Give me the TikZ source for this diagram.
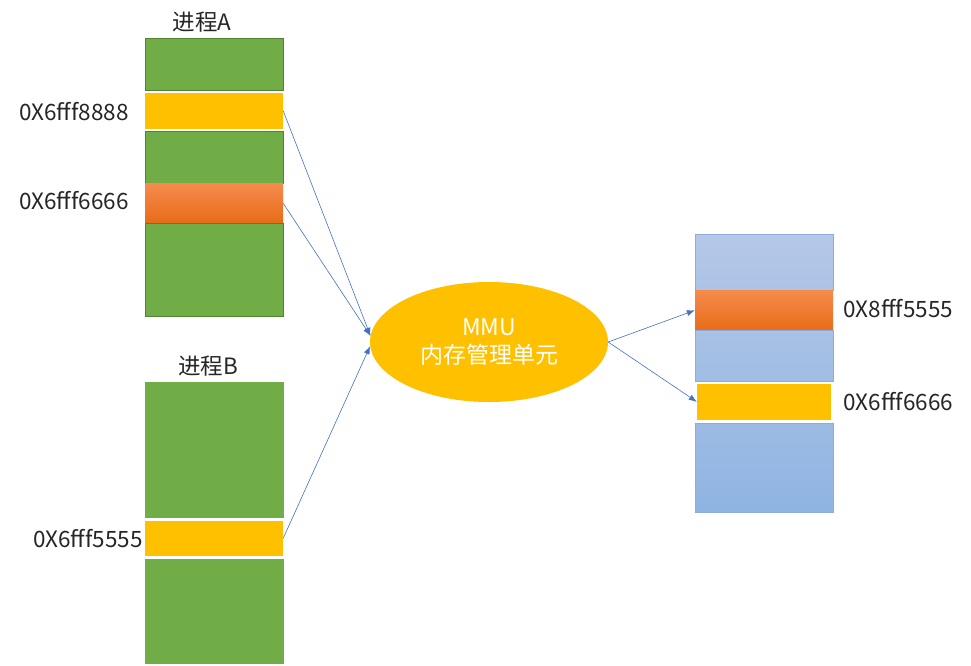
\documentclass[tikz,border=0pt]{standalone}
\usepackage{fontspec}
\setmainfont{Noto Sans CJK SC}
\usetikzlibrary{positioning}
\usetikzlibrary{shapes.geometric}
\usetikzlibrary{arrows.meta}
\definecolor{pgreen}{RGB}{112,173,71}
\definecolor{pgreenline}{RGB}{84,130,53}
\definecolor{pyellow}{RGB}{255,192,0}
\definecolor{porangetop}{RGB}{245,139,76}
\definecolor{porangebot}{RGB}{232,108,24}
\definecolor{pblueline}{RGB}{143,170,220}
\definecolor{parrow}{RGB}{68,114,196}

\begin{document}
\begin{tikzpicture}[x=1pt, y=-1pt,
  seg/.style={rectangle, inner sep=0pt, minimum width=138pt},
  greenseg/.style={seg, fill=pgreen, draw=pgreenline, line width=0.6pt},
  yellowseg/.style={seg, fill=pyellow},
  orangeseg/.style={seg, top color=porangetop, bottom color=porangebot},
  blueseg/.style={seg, draw=pblueline, line width=0.6pt},
  addr/.style={font=\fontsize{22.5}{24}\selectfont, text=black!85, inner sep=2pt},
  title/.style={font=\fontsize{22.5}{24}\selectfont, text=black!85},
  arr/.style={-{Latex[length=8pt,width=6pt]}, draw=parrow, line width=0.6pt}]

\useasboundingbox[fill=white] (0,0) rectangle (971,665);

%---------------------------------------
% Process A
%---------------------------------------
\node[title] (ta) at (202,22) {进程A};
\node[greenseg, minimum height=52pt, anchor=north] (a1) at (214,38) {};
\node[yellowseg, minimum height=36pt, below=2pt of a1] (a2) {};
\node[greenseg, minimum height=52pt, below=2pt of a2] (a3) {};
\node[orangeseg, minimum height=39pt, below=0pt of a3] (a4) {};
\node[greenseg, minimum height=93pt, below=0pt of a4] (a5) {};

\node[addr, left=14pt of a2, yshift=-1pt] (la2) {0X6fff8888};
\node[addr, left=14pt of a4, yshift=3pt] (la4) {0X6fff6666};

%---------------------------------------
% Process B
%---------------------------------------
\node[title] (tb) at (208,366) {进程B};
\node[greenseg, draw=pgreen, minimum height=135pt, anchor=north] (b1) at (214,382) {};
\node[yellowseg, minimum height=35pt, below=3pt of b1] (b2) {};
\node[greenseg, draw=pgreen, minimum height=104pt, below=3pt of b2] (b3) {};

\node[addr, left=0pt of b2] (lb2) {0X6fff5555};

%---------------------------------------
% MMU
%---------------------------------------
\node[ellipse, fill=pyellow, minimum width=238pt, minimum height=120pt,
      text=white, align=center, font=\fontsize{23}{28}\selectfont] (mmu) at (489,342)
      {MMU\\内存管理单元};

%---------------------------------------
% Physical memory
%---------------------------------------
\node[blueseg, top color={rgb,255:red,181;green,200;blue,232}, bottom color={rgb,255:red,172;green,195;blue,230},
      minimum height=56pt, anchor=north] (r1) at (764,234) {};
\node[orangeseg, minimum height=39pt, below=0pt of r1] (r2) {};
\node[blueseg, top color={rgb,255:red,168;green,193;blue,229}, bottom color={rgb,255:red,160;green,189;blue,228},
      minimum height=51pt, below=0pt of r2] (r3) {};
\node[yellowseg, minimum width=134pt, minimum height=36pt, below=2pt of r3] (r4) {};
\node[blueseg, top color={rgb,255:red,156;green,187;blue,228}, bottom color={rgb,255:red,143;green,180;blue,226},
      minimum height=89pt, below=3pt of r4] (r5) {};

\node[addr, right=8pt of r2, yshift=2pt] (lr2) {0X8fff5555};
\node[addr, right=10pt of r4] (lr4) {0X6fff6666};

%---------------------------------------
% Mappings
%---------------------------------------
\draw[arr] (a2.east) -- (mmu.177);
\draw[arr] (a4.east) -- (mmu.177);
\draw[arr] (b2.east) -- (mmu.182);
\draw[arr] (mmu.east) -- (r2.west);
\draw[arr] (mmu.east) -- (r4.west);

\end{tikzpicture}
\end{document}
